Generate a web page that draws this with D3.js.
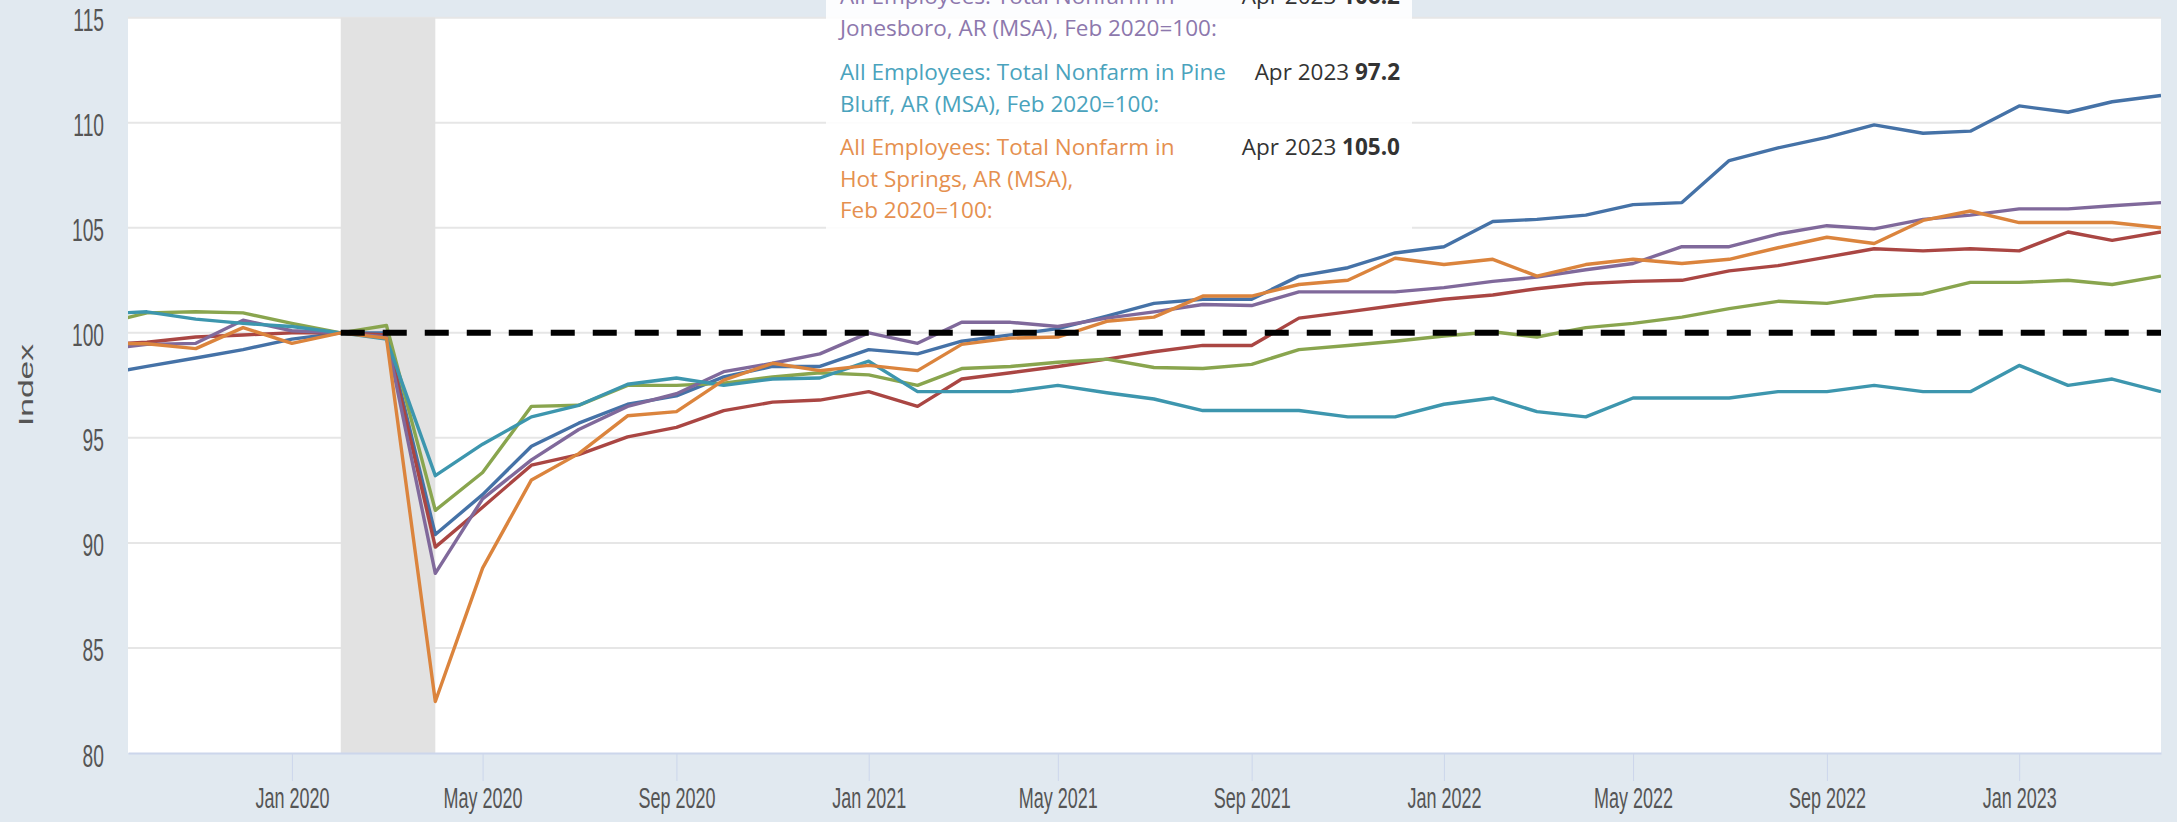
<!DOCTYPE html>
<meta charset="utf-8">
<head>
<script src="https://d3js.org/d3.v7.min.js"></script>
<style>
    body {
        margin: 0;
        background: #e1e9f0;
    }
    svg {
        display: block;
    }
</style>
</head>
<body>
<div id="chart"></div>
<script>
    // monthly observations, Feb 2020 = 100
    var months = ["2019-09", "2019-10", "2019-11", "2019-12",
        "2020-01", "2020-02", "2020-03", "2020-04", "2020-05", "2020-06", "2020-07", "2020-08", "2020-09", "2020-10", "2020-11", "2020-12",
        "2021-01", "2021-02", "2021-03", "2021-04", "2021-05", "2021-06", "2021-07", "2021-08", "2021-09", "2021-10", "2021-11", "2021-12",
        "2022-01", "2022-02", "2022-03", "2022-04", "2022-05", "2022-06", "2022-07", "2022-08", "2022-09", "2022-10", "2022-11", "2022-12",
        "2023-01", "2023-02", "2023-03", "2023-04"];

    var seriesBlue = [98.0, 98.4, 98.8, 99.2, 99.7, 100, 100.0, 90.4, 92.3, 94.6, 95.7, 96.6, 97.0, 97.9, 98.4, 98.4,
        99.2, 99.0, 99.6, 99.9, 100.2, 100.8, 101.4, 101.6, 101.6, 102.7, 103.1, 103.8,
        104.1, 105.3, 105.4, 105.6, 106.1, 106.2, 108.2, 108.8, 109.3, 109.9, 109.5, 109.6,
        110.8, 110.5, 111.0, 111.3];
    var seriesRed = [99.45, 99.55, 99.8, 99.9, 100.0, 100, 99.9, 89.8, 91.7, 93.7, 94.2, 95.05, 95.5, 96.3, 96.7, 96.8,
        97.2, 96.5, 97.8, 98.1, 98.4, 98.75, 99.1, 99.4, 99.4, 100.7, 101.0, 101.3,
        101.6, 101.8, 102.1, 102.35, 102.45, 102.5, 102.95, 103.2, 103.6, 104.0, 103.9, 104.0,
        103.9, 104.8, 104.4, 104.8];
    var seriesGreen = [100.4, 100.95, 101.0, 100.95, 100.45, 100, 100.35, 91.55, 93.35, 96.5, 96.55, 97.5, 97.5, 97.6, 97.9, 98.1,
        98.0, 97.5, 98.3, 98.4, 98.6, 98.75, 98.35, 98.3, 98.5, 99.2, 99.4, 99.6,
        99.85, 100.05, 99.8, 100.25, 100.45, 100.75, 101.15, 101.5, 101.4, 101.75, 101.85, 102.4,
        102.4, 102.5, 102.3, 102.7];
    var jonesboro = [99.2, 99.45, 99.5, 100.6, 100.1, 100, 99.8, 88.55, 92.1, 93.95, 95.4, 96.5, 97.1, 98.15, 98.55, 99.0,
        100.0, 99.5, 100.5, 100.5, 100.3, 100.7, 101.0, 101.35, 101.3, 101.95, 101.95, 101.95,
        102.15, 102.45, 102.65, 103.0, 103.3, 104.1, 104.1, 104.7, 105.1, 104.95, 105.4, 105.6,
        105.9, 105.9, 106.05, 106.2];
    var pineBluff = [100.9, 101.0, 100.65, 100.45, 100.3, 100, 99.7, 93.2, 94.7, 96.0, 96.55, 97.55, 97.85, 97.5, 97.8, 97.85,
        98.65, 97.2, 97.2, 97.2, 97.5, 97.15, 96.85, 96.3, 96.3, 96.3, 96.0, 96.0,
        96.6, 96.9, 96.25, 96.0, 96.9, 96.9, 96.9, 97.2, 97.2, 97.5, 97.2, 97.2,
        98.45, 97.5, 97.8, 97.2];
    var hotSprings = [99.5, 99.48, 99.25, 100.25, 99.5, 100, 99.75, 82.45, 88.8, 93.0, 94.25, 96.05, 96.25, 97.75, 98.55, 98.2,
        98.45, 98.2, 99.45, 99.75, 99.8, 100.55, 100.75, 101.75, 101.75, 102.3, 102.5, 103.55,
        103.25, 103.5, 102.7, 103.25, 103.5, 103.3, 103.5, 104.05, 104.55, 104.25, 105.35, 105.8,
        105.25, 105.25, 105.25, 105.0];

    var yTicks = [80, 85, 90, 95, 100, 105, 110, 115];
    var recession = ["2020-02", "2020-04"];
    var refLine = ["2020-02", "2023-04"];
    var refValue = 100;

    // hover box (partly above the top of the picture)
    var tipDate = "Apr 2023";
    var tipLabels = [
        ["All Employees: Total Nonfarm in", "Jonesboro, AR (MSA), Feb 2020=100:"],
        ["All Employees: Total Nonfarm in Pine", "Bluff, AR (MSA), Feb 2020=100:"],
        ["All Employees: Total Nonfarm in", "Hot Springs, AR (MSA),", "Feb 2020=100:"]
    ];
    var tipValues = ["106.2", "97.2", "105.0"];

    var series = [
        {values: seriesBlue, color: "#4572a7"},
        {values: seriesRed, color: "#aa4643"},
        {values: seriesGreen, color: "#89a54e"},
        {values: jonesboro, color: "#80699b"},
        {values: pineBluff, color: "#3d96ae"},
        {values: hotSprings, color: "#db843d"}
    ];
    var tipColors = ["#8d78ad", "#4aa3bd", "#e5904f"];

    var width = 2177, height = 822;
    var plotLeft = 128, plotRight = 2161, plotTop = 17.7, plotBottom = 753;
    var parse = d3.timeParse("%Y-%m");

    var svg = d3.select("#chart").append("svg")
        .attr("width", width)
        .attr("height", height);

    svg.append("rect")
        .attr("width", width)
        .attr("height", height)
        .attr("fill", "#e1e9f0");

    var x = d3.scaleTime().domain([new Date(2019, 8, 19), new Date(2023, 3, 1)]).range([plotLeft, plotRight]);
    var y = d3.scaleLinear().domain([80, 115]).range([plotBottom, plotTop]);

    svg.append("rect")
        .attr("x", plotLeft)
        .attr("y", plotTop)
        .attr("width", plotRight - plotLeft)
        .attr("height", plotBottom - plotTop)
        .attr("fill", "#fff");

    svg.append("defs").append("clipPath")
        .attr("id", "plot-clip")
        .append("rect")
        .attr("x", plotLeft)
        .attr("y", plotTop - 5)
        .attr("width", plotRight - plotLeft)
        .attr("height", plotBottom - plotTop + 5);

    // grid
    svg.append("g").selectAll("line")
        .data(yTicks.filter(function(d) { return d > 80; }))
        .enter().append("line")
        .attr("x1", plotLeft)
        .attr("x2", plotRight)
        .attr("y1", function(d) { return y(d); })
        .attr("y2", function(d) { return y(d); })
        .attr("stroke", "#e6e6e6")
        .attr("stroke-width", 2);

    // recession shading
    svg.append("rect")
        .attr("x", x(parse(recession[0])))
        .attr("y", plotTop)
        .attr("width", x(parse(recession[1])) - x(parse(recession[0])))
        .attr("height", plotBottom - plotTop)
        .attr("fill", "#e2e2e2");

    var line = d3.line()
        .x(function(d, i) { return x(parse(months[i])); })
        .y(function(d) { return y(d); });

    svg.append("g")
        .attr("clip-path", "url(#plot-clip)")
        .selectAll("path")
        .data(series)
        .enter().append("path")
        .attr("d", function(d) { return line(d.values); })
        .attr("fill", "none")
        .attr("stroke", function(d) { return d.color; })
        .attr("stroke-width", 3.4)
        .attr("stroke-linejoin", "round");

    svg.append("line")
        .attr("x1", x(parse(refLine[0])))
        .attr("x2", x(parse(refLine[1])))
        .attr("y1", y(refValue))
        .attr("y2", y(refValue))
        .attr("stroke", "#000")
        .attr("stroke-width", 6)
        .attr("stroke-dasharray", "24,18");

    // y axis
    var yAxis = svg.append("g")
        .attr("transform", "translate(" + plotLeft + ",0)")
        .call(d3.axisLeft(y).tickValues(yTicks).tickSize(0).tickFormat(d3.format("d")));
    yAxis.select(".domain").remove();
    yAxis.selectAll("text")
        .attr("x", -24 / 0.62)
        .attr("dy", "0.42em")
        .attr("transform", "scale(0.62,1)")
        .style("font", "31px 'Liberation Sans', Arial, sans-serif")
        .attr("fill", "#555");

    svg.append("text")
        .attr("transform", "translate(33,385) rotate(-90) scale(1.6,1)")
        .style("font", "21px 'Liberation Sans', Arial, sans-serif")
        .style("text-anchor", "middle")
        .attr("fill", "#555")
        .text("Index");

    // x axis
    var xAxis = svg.append("g")
        .attr("transform", "translate(0," + plotBottom + ")")
        .call(d3.axisBottom(x).ticks(d3.timeMonth.every(4)).tickFormat(d3.timeFormat("%b %Y")).tickSize(28).tickSizeOuter(0));
    xAxis.select(".domain")
        .attr("stroke", "#ccd6eb")
        .attr("stroke-width", 2);
    xAxis.selectAll(".tick line")
        .attr("stroke", "#ccd6eb")
        .attr("stroke-width", 1);
    xAxis.selectAll("text")
        .attr("y", 55)
        .attr("dy", 0)
        .attr("transform", "scale(0.6,1)")
        .style("font", "30px 'Liberation Sans', Arial, sans-serif")
        .attr("fill", "#555");

    // tooltip
    var tip = svg.append("g");
    tip.append("rect")
        .attr("x", 826)
        .attr("y", -40)
        .attr("width", 586)
        .attr("height", 271)
        .attr("fill", "#fff")
        .attr("fill-opacity", 0.88);

    var rowTops = [4, 80, 155];
    tipLabels.forEach(function(lines, r) {
        lines.forEach(function(t, j) {
            tip.append("text")
                .attr("x", 840)
                .attr("y", rowTops[r] + j * 31.5)
                .style("font", "22.5px 'Open Sans', sans-serif")
                .attr("fill", tipColors[r])
                .text(t);
        });
        var v = tip.append("text")
            .attr("x", 1400)
            .attr("y", rowTops[r])
            .style("font", "22.5px 'Open Sans', sans-serif")
            .style("text-anchor", "end")
            .attr("fill", "#333");
        v.append("tspan").text(tipDate + " ");
        v.append("tspan").style("font-weight", "bold").text(tipValues[r]);
    });
</script>
</body>
